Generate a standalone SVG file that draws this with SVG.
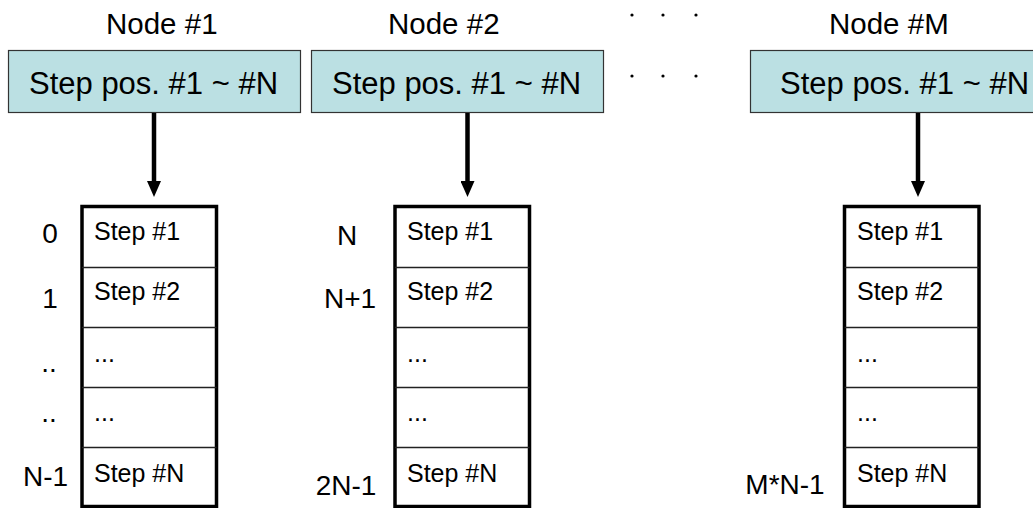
<svg xmlns="http://www.w3.org/2000/svg" width="1033" height="508" viewBox="0 0 1033 508">
<style>
text{font-family:"Liberation Sans",Arial,sans-serif;fill:#000}
.nl{font-size:29.5px}
.sp{font-size:31px}
.st{font-size:25px}
.ix{font-size:28px;text-anchor:middle}
.hb{fill:#BBE0E3;stroke:#333;stroke-width:1.2}
.stack{fill:#fff;stroke:#000;stroke-width:3.5}
.div{stroke:#222;stroke-width:1.5}
.conn{stroke:#000;stroke-width:4.5;fill:none}
</style>
<defs>
<marker id="ah" markerUnits="userSpaceOnUse" markerWidth="16" markerHeight="14" refX="1" refY="7" orient="auto" viewBox="0 0 16 14">
<path d="M0,0 L16,7 L0,14 Z" fill="#000"/>
</marker>
</defs>
<rect width="1033" height="508" fill="#fff"/>

<g id="node1">
<text class="nl" x="106" y="34">Node #1</text>
<rect class="hb" x="8.5" y="50.5" width="292" height="62"/>
<text class="sp" x="29" y="94">Step pos. #1 ~ #N</text>
</g>
<g id="node2">
<text class="nl" x="388" y="34">Node #2</text>
<rect class="hb" x="311.5" y="50.5" width="292" height="62"/>
<text class="sp" x="332" y="94">Step pos. #1 ~ #N</text>
</g>
<g id="nodeM">
<text class="nl" x="829" y="34">Node #M</text>
<rect class="hb" x="750.5" y="50.5" width="292" height="62"/>
<text class="sp" x="780" y="94">Step pos. #1 ~ #N</text>
</g>

<g id="ellipsis">
<circle cx="632" cy="15" r="1.6" fill="#000"/>
<circle cx="663" cy="15" r="1.6" fill="#000"/>
<circle cx="696" cy="15" r="1.6" fill="#000"/>
<circle cx="632" cy="76" r="1.6" fill="#000"/>
<circle cx="663" cy="76" r="1.6" fill="#000"/>
<circle cx="696" cy="76" r="1.6" fill="#000"/>
</g>

<g id="connectors">
<line class="conn" x1="154" y1="113" x2="154" y2="182" marker-end="url(#ah)"/>
<line class="conn" x1="467.5" y1="113" x2="467.5" y2="182" marker-end="url(#ah)"/>
<line class="conn" x1="918" y1="113" x2="918" y2="182" marker-end="url(#ah)"/>
</g>

<g id="stack1">
<rect class="stack" x="82" y="206.5" width="134.5" height="300"/>
<line class="div" x1="82" y1="267.5" x2="216.5" y2="267.5"/>
<line class="div" x1="82" y1="327.5" x2="216.5" y2="327.5"/>
<line class="div" x1="82" y1="387.5" x2="216.5" y2="387.5"/>
<line class="div" x1="82" y1="447.5" x2="216.5" y2="447.5"/>
<text class="st" x="94" y="240">Step #1</text>
<text class="st" x="94" y="300">Step #2</text>
<text class="st" x="94" y="362">...</text>
<text class="st" x="94" y="421">...</text>
<text class="st" x="94" y="482">Step #N</text>
<text class="ix" x="50" y="243">0</text>
<text class="ix" x="50" y="308">1</text>
<text class="ix" x="49" y="372">..</text>
<text class="ix" x="49" y="422">..</text>
<text class="ix" x="45.5" y="486">N-1</text>
</g>

<g id="stack2">
<rect class="stack" x="395" y="206.5" width="134.5" height="300"/>
<line class="div" x1="395" y1="267.5" x2="529.5" y2="267.5"/>
<line class="div" x1="395" y1="327.5" x2="529.5" y2="327.5"/>
<line class="div" x1="395" y1="387.5" x2="529.5" y2="387.5"/>
<line class="div" x1="395" y1="447.5" x2="529.5" y2="447.5"/>
<text class="st" x="407" y="240">Step #1</text>
<text class="st" x="407" y="300">Step #2</text>
<text class="st" x="407" y="362">...</text>
<text class="st" x="407" y="421">...</text>
<text class="st" x="407" y="482">Step #N</text>
<text class="ix" x="347" y="245">N</text>
<text class="ix" x="350" y="308">N+1</text>
<text class="ix" x="346" y="495">2N-1</text>
</g>

<g id="stackM">
<rect class="stack" x="844.5" y="206.5" width="134.5" height="300"/>
<line class="div" x1="844.5" y1="267.5" x2="979" y2="267.5"/>
<line class="div" x1="844.5" y1="327.5" x2="979" y2="327.5"/>
<line class="div" x1="844.5" y1="387.5" x2="979" y2="387.5"/>
<line class="div" x1="844.5" y1="447.5" x2="979" y2="447.5"/>
<text class="st" x="857" y="240">Step #1</text>
<text class="st" x="857" y="300">Step #2</text>
<text class="st" x="857" y="362">...</text>
<text class="st" x="857" y="421">...</text>
<text class="st" x="857" y="482">Step #N</text>
<text class="ix" x="785" y="494">M*N-1</text>
</g>
</svg>
